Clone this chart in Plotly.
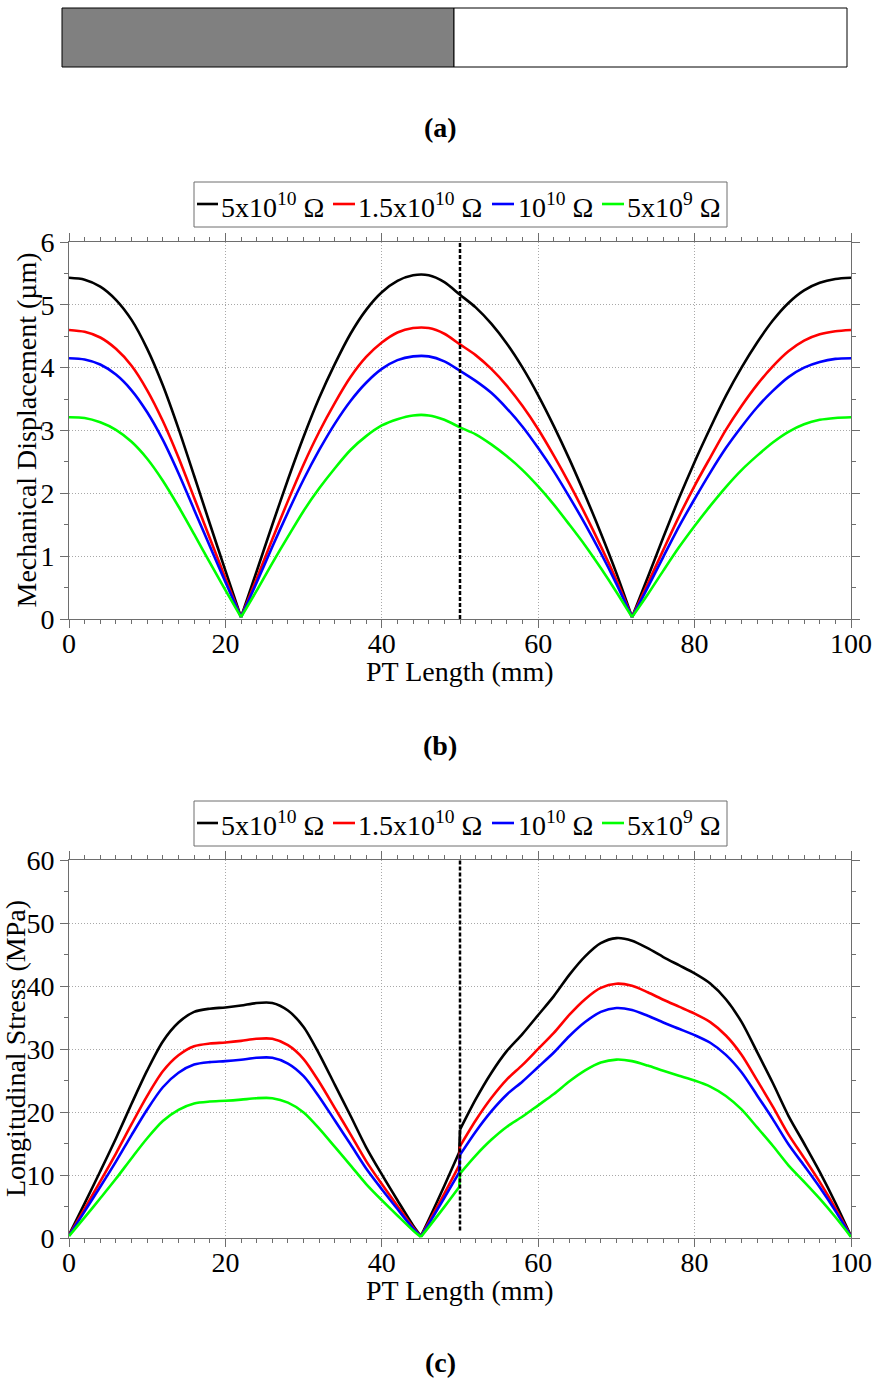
import plotly.graph_objects as go

# ---------------- data ----------------
pt_length_b = [0, 2, 4, 6, 8, 10, 12, 14, 16, 18, 20, 22, 24, 26, 28, 30, 32, 34, 36, 38, 40,
               42, 44, 46, 48, 50, 52, 54, 56, 58, 60, 62, 64, 66, 68, 70, 72, 74, 76, 78, 80,
               82, 84, 86, 88, 90, 92, 94, 96, 98, 100]

disp_5e10 = [5.43, 5.40, 5.29, 5.08, 4.76, 4.30, 3.72, 3.03, 2.28, 1.52, 0.77, 0.03,
             0.76, 1.50, 2.22, 2.90, 3.52, 4.06, 4.54, 4.92, 5.20, 5.38, 5.47, 5.47, 5.36, 5.16,
             4.96, 4.70, 4.38, 4.00, 3.56, 3.07, 2.54, 1.97, 1.37, 0.73, 0.03,
             0.66, 1.30, 1.92, 2.50, 3.04, 3.55, 4.00, 4.40, 4.75, 5.03, 5.23, 5.35, 5.41, 5.43]
disp_15e9 = [4.60, 4.57, 4.48, 4.30, 4.03, 3.64, 3.15, 2.57, 1.93, 1.29, 0.65, 0.03,
             0.64, 1.27, 1.88, 2.46, 2.98, 3.44, 3.85, 4.17, 4.40, 4.56, 4.63, 4.63, 4.54, 4.37,
             4.20, 3.98, 3.71, 3.39, 3.02, 2.60, 2.15, 1.67, 1.16, 0.62, 0.03,
             0.56, 1.10, 1.63, 2.12, 2.57, 3.01, 3.39, 3.73, 4.02, 4.26, 4.43, 4.53, 4.58, 4.60]
disp_1e10 = [4.15, 4.13, 4.05, 3.89, 3.64, 3.29, 2.85, 2.32, 1.74, 1.16, 0.59, 0.03,
             0.58, 1.15, 1.70, 2.22, 2.69, 3.11, 3.47, 3.76, 3.98, 4.12, 4.18, 4.18, 4.10, 3.95,
             3.79, 3.60, 3.35, 3.06, 2.72, 2.35, 1.94, 1.51, 1.05, 0.56, 0.03,
             0.50, 0.99, 1.47, 1.91, 2.33, 2.72, 3.06, 3.37, 3.63, 3.85, 4.00, 4.09, 4.14, 4.15]
disp_5e9 = [3.21, 3.20, 3.13, 3.01, 2.82, 2.55, 2.20, 1.79, 1.35, 0.90, 0.46, 0.03,
            0.45, 0.89, 1.31, 1.72, 2.08, 2.40, 2.69, 2.91, 3.08, 3.18, 3.24, 3.24, 3.17, 3.05,
            2.94, 2.78, 2.59, 2.37, 2.11, 1.82, 1.50, 1.17, 0.81, 0.43, 0.03,
            0.39, 0.77, 1.14, 1.48, 1.80, 2.10, 2.37, 2.60, 2.81, 2.98, 3.10, 3.17, 3.20, 3.21]

pt_length_c = [0, 2, 4, 6, 8, 10, 12, 14, 16, 18, 20, 22, 24, 26, 28, 30, 32, 34, 36, 38, 40,
               42, 44, 45, 46, 48, 49.9, 50, 52, 54, 56, 58, 60, 62, 64, 66, 68, 70, 72, 74, 76,
               78, 80, 82, 84, 86, 88, 90, 92, 94, 96, 98, 100]

stress_5e10 = [0.5, 5.5, 10.6, 15.8, 21.3, 26.6, 31.2, 34.2, 35.9, 36.4, 36.6, 36.9, 37.3, 37.3,
               36.1, 33.5, 29.2, 24.3, 19.4, 14.4, 10.1, 6.0, 2.0, 0.3, 2.9, 8.3, 13.6, 17.2,
               22.0, 26.2, 29.7, 32.4, 35.4, 38.4, 41.8, 44.7, 46.8, 47.6, 47.2, 46.0, 44.6,
               43.3, 42.0, 40.4, 37.9, 34.3, 29.5, 24.6, 19.4, 15.0, 10.5, 5.6, 0.3]
stress_15e9 = [0.42, 4.66, 8.99, 13.40, 18.06, 22.56, 26.46, 29.00, 30.44, 30.87, 31.04, 31.29,
               31.63, 31.63, 30.61, 28.41, 24.76, 20.61, 16.45, 12.21, 8.56, 5.09, 1.70, 0.25,
               2.46, 7.04, 11.53, 14.59, 18.66, 22.22, 25.19, 27.48, 30.02, 32.56, 35.45, 37.91,
               39.69, 40.36, 40.03, 39.01, 37.82, 36.72, 35.62, 34.26, 32.14, 29.09, 25.02, 20.86,
               16.45, 12.72, 8.90, 4.75, 0.25]
stress_1e10 = [0.38, 4.22, 8.13, 12.12, 16.34, 20.40, 23.93, 26.23, 27.53, 27.92, 28.07, 28.30,
               28.61, 28.61, 27.69, 25.69, 22.40, 18.64, 14.88, 11.04, 7.75, 4.60, 1.53, 0.23,
               2.22, 6.37, 10.43, 13.19, 16.87, 20.10, 22.78, 24.85, 27.15, 29.45, 32.07, 34.28,
               35.90, 36.51, 36.20, 35.28, 34.21, 33.21, 32.21, 30.99, 29.07, 26.31, 22.63, 18.87,
               14.88, 11.50, 8.05, 4.30, 0.23]
stress_5e9 = [0.30, 3.27, 6.31, 9.40, 12.67, 15.83, 18.56, 20.35, 21.36, 21.66, 21.78, 21.96,
              22.19, 22.19, 21.48, 19.93, 17.37, 14.46, 11.54, 8.57, 6.01, 3.57, 1.19, 0.18,
              1.73, 4.94, 8.09, 10.23, 13.09, 15.59, 17.67, 19.28, 21.06, 22.85, 24.87, 26.60,
              27.85, 28.32, 28.08, 27.37, 26.54, 25.76, 24.99, 24.04, 22.55, 20.41, 17.55, 14.64,
              11.54, 8.93, 6.25, 3.33, 0.18]

series_names = ["5x10<sup>10</sup> Ω", "1.5x10<sup>10</sup> Ω", "10<sup>10</sup> Ω", "5x10<sup>9</sup> Ω"]
series_colors = ["#000000", "#ff0000", "#0000ff", "#00ff00"]
interface_x = 50
# x positions where the curves have a sharp corner (nodes / interface jump)
corners_b = [22, 72]
corners_c = [45, 49.9, 50]

# ---------------- figure ----------------
W, H = 879, 1382
FONT = "Liberation Serif"
AXC = "#6e6e6e"


def px_x(p):
    return p / W


def px_y(p):
    return 1 - p / H


def split_at(xs, ys, corners):
    """Split a curve into smooth pieces that share their end points at sharp corners."""
    pieces, start = [], 0
    for i, xv in enumerate(xs):
        if xv in corners and i > start:
            pieces.append((xs[start:i + 1], ys[start:i + 1]))
            start = i
    pieces.append((xs[start:], ys[start:]))
    return pieces


fig = go.Figure()

disp_sets = [disp_5e10, disp_15e9, disp_1e10, disp_5e9]
stress_sets = [stress_5e10, stress_15e9, stress_1e10, stress_5e9]

for name, col, yv in zip(series_names, series_colors, disp_sets):
    for xs, ys in split_at(pt_length_b, yv, corners_b):
        fig.add_trace(go.Scatter(x=xs, y=ys, mode="lines", name=name, showlegend=False,
                                 line=dict(color=col, width=2.6, shape="spline", smoothing=0.8),
                                 xaxis="x", yaxis="y"))
for name, col, yv in zip(series_names, series_colors, stress_sets):
    for xs, ys in split_at(pt_length_c, yv, corners_c):
        fig.add_trace(go.Scatter(x=xs, y=ys, mode="lines", name=name, showlegend=False,
                                 line=dict(color=col, width=2.6, shape="spline", smoothing=0.8),
                                 xaxis="x2", yaxis="y2"))

axis_common = dict(
    showline=True, linecolor=AXC, linewidth=1, mirror="allticks",
    ticks="outside", ticklen=8, tickwidth=1, tickcolor=AXC,
    showgrid=True, gridcolor="#a8a8a8", griddash="1px,2px", gridwidth=1,
    zeroline=False, automargin=False,
    tickfont=dict(family=FONT, size=28, color="black"),
)

x_dom = [px_x(69), px_x(851)]
yb_dom = [px_y(619), px_y(242)]
yc_dom = [px_y(1238), px_y(860)]

fig.update_layout(
    template="none",
    width=W, height=H, autosize=False,
    margin=dict(l=0, r=0, t=0, b=0),
    paper_bgcolor="white", plot_bgcolor="white",
    font=dict(family=FONT, size=28, color="black"),
    showlegend=False,
    xaxis=dict(domain=x_dom, anchor="y", range=[0, 100], tick0=0, dtick=20, ticklabelstandoff=-9,
               minor=dict(dtick=2, ticks="outside", ticklen=4, tickcolor=AXC, showgrid=False),
               **axis_common),
    yaxis=dict(domain=yb_dom, anchor="x", range=[0, 6], tick0=0, dtick=1,
               minor=dict(dtick=0.5, ticks="outside", ticklen=4, tickcolor=AXC, showgrid=False),
               **axis_common),
    xaxis2=dict(domain=x_dom, anchor="y2", range=[0, 100], tick0=0, dtick=20, ticklabelstandoff=-9,
                minor=dict(dtick=2, ticks="outside", ticklen=4, tickcolor=AXC, showgrid=False),
                **axis_common),
    yaxis2=dict(domain=yc_dom, anchor="x2", range=[0, 60], tick0=0, dtick=10,
                minor=dict(dtick=5, ticks="outside", ticklen=4, tickcolor=AXC, showgrid=False),
                **axis_common),
)


def add_text(txt, x, y, angle=0, bold=False, anchor="center"):
    fig.add_annotation(text=("<b>" + txt + "</b>") if bold else txt, xref="paper", yref="paper",
                       x=px_x(x), y=px_y(y), xanchor=anchor, yanchor="middle", textangle=angle,
                       showarrow=False, borderpad=0,
                       font=dict(family=FONT, size=28, color="black"))


# axis titles
add_text("PT Length (mm)", 460, 671)
add_text("PT Length (mm)", 460, 1290)
add_text("Mechanical Displacement (µm)", 26, 430.5, angle=-90)
add_text("Longitudinal Stress (MPa)", 15, 1049, angle=-90)

# interface markers (dashed vertical lines at x = 50 mm)
fig.add_shape(type="line", xref="x", yref="y", x0=interface_x, x1=interface_x, y0=0, y1=6,
              line=dict(color="black", width=2.5, dash="4px,2px"))
fig.add_shape(type="line", xref="x2", yref="y2", x0=interface_x, x1=interface_x, y0=1.2, y1=60,
              line=dict(color="black", width=2.5, dash="4px,2px"))

# legends (one per panel)
legend_lines = [(197, 218), (333, 355), (492, 514), (602, 624)]
legend_text_x = [220, 357, 517, 626]
for top, bot, mid in [(182, 227, 204), (801, 846, 823)]:
    fig.add_shape(type="rect", xref="paper", yref="paper", x0=px_x(194), x1=px_x(727),
                  y0=px_y(bot), y1=px_y(top), fillcolor="white", line=dict(color=AXC, width=1))
    for (x0, x1), tx, name, col in zip(legend_lines, legend_text_x, series_names, series_colors):
        fig.add_shape(type="line", xref="paper", yref="paper", x0=px_x(x0), x1=px_x(x1),
                      y0=px_y(mid), y1=px_y(mid), line=dict(color=col, width=2.6))
        add_text(name, tx, mid + 1, anchor="left")

# schematic bar (a): gray input half, white output half
fig.add_shape(type="rect", xref="paper", yref="paper", x0=px_x(62), x1=px_x(454),
              y0=px_y(67), y1=px_y(8), fillcolor="#808080", line=dict(color="black", width=1))
fig.add_shape(type="rect", xref="paper", yref="paper", x0=px_x(454), x1=px_x(847),
              y0=px_y(67), y1=px_y(8), fillcolor="white", line=dict(color="black", width=1))

for lab, yy in [("(a)", 127), ("(b)", 745), ("(c)", 1362)]:
    add_text(lab, 440, yy, bold=True)

fig.write_html("out.html")
